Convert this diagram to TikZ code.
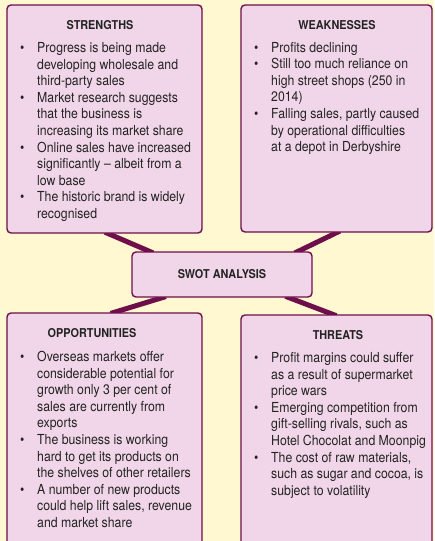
\documentclass[tikz,border=0pt]{standalone}
\usepackage{fontspec}
\setmainfont{TeX Gyre Heros}[FakeStretch=0.89]
\usetikzlibrary{calc}
\definecolor{swotbg}{RGB}{255,248,208}
\definecolor{swotfill}{RGB}{240,214,232}
\definecolor{swotline}{RGB}{110,15,75}
\definecolor{swottext}{RGB}{35,35,35}
\pgfdeclarelayer{bg}
\pgfdeclarelayer{links}
\pgfsetlayers{bg,links,main}
\newcommand{\bul}{\makebox[17pt][l]{\textbullet}}
\begin{document}
\begin{tikzpicture}[x=1pt,y=-1pt,
        box/.style={draw=swotline,line width=1.4pt,fill=swotfill,rounded corners=4pt,inner sep=0pt},
        head/.style={anchor=base,inner sep=0pt,font=\fontsize{12.2}{16.6}\selectfont\bfseries,text=swottext},
        list/.style={anchor=base west,inner sep=0pt,font=\fontsize{13.8}{16.6}\selectfont,text=swottext},
        link/.style={draw=swotline,line width=5pt,shorten <=-4pt,shorten >=-4pt}]
        \useasboundingbox (0,0) rectangle (434,541);
        \begin{pgfonlayer}{bg}
        \fill[swotbg] (0,0) rectangle (434,541);
        \end{pgfonlayer}
        \node[box,minimum width=195pt,minimum height=228pt] (str) at (104.5,119) {};
        \node[box,minimum width=191pt,minimum height=227pt] (weak) at (336.5,118.5) {};
        \node[box,minimum width=180pt,minimum height=45pt,font=\fontsize{12.2}{16.6}\selectfont\bfseries,text=swottext] (swot) at (222,274.5) {SWOT ANALYSIS};
        \node[box,minimum width=195pt,minimum height=237pt] (opp) at (104.5,431.5) {};
        \node[box,minimum width=191pt,minimum height=235pt] (thr) at (336.5,432.5) {};
        \node[head] (strh) at (100,29.5) {STRENGTHS};
        \node[head] (weakh) at (337,29.5) {WEAKNESSES};
        \node[head] (opph) at (92,337.5) {OPPORTUNITIES};
        \node[head] (thrh) at (338,339.5) {THREATS};
        \node[list] (strl) at (20,52.5) {\begin{tabular}[t]{@{}l@{}l@{}}
                \bul & Progress is being made\\
                & developing wholesale and\\
                & third-party sales\\
                \bul & Market research suggests\\
                & that the business is\\
                & increasing its market share\\
                \bul & Online sales have increased\\
                & significantly -- albeit from a\\
                & low base\\
                \bul & The historic brand is widely\\
                & recognised
            \end{tabular}};
        \node[list] (weakl) at (254,52) {\begin{tabular}[t]{@{}l@{}l@{}}
                \bul & Profits declining\\
                \bul & Still too much reliance on\\
                & high street shops (250 in\\
                & 2014)\\
                \bul & Falling sales, partly caused\\
                & by operational difficulties\\
                & at a depot in Derbyshire
            \end{tabular}};
        \node[list] (oppl) at (20,361.5) {\begin{tabular}[t]{@{}l@{}l@{}}
                \bul & Overseas markets offer\\
                & considerable potential for\\
                & growth only 3 per cent of\\
                & sales are currently from\\
                & exports\\
                \bul & The business is working\\
                & hard to get its products on\\
                & the shelves of other retailers\\
                \bul & A number of new products\\
                & could help lift sales, revenue\\
                & and market share
            \end{tabular}};
        \node[list] (thrl) at (254,362.5) {\begin{tabular}[t]{@{}l@{}l@{}}
                \bul & Profit margins could suffer\\
                & as a result of supermarket\\
                & price wars\\
                \bul & Emerging competition from\\
                & gift-selling rivals, such as\\
                & Hotel Chocolat and Moonpig\\
                \bul & The cost of raw materials,\\
                & such as sugar and cocoa, is\\
                & subject to volatility
            \end{tabular}};
        \begin{pgfonlayer}{links}
        \draw[link] ($(str.south west)!0.52!(str.south east)$) -- ($(swot.north west)!0.1!(swot.north east)$);
        \draw[link] ($(weak.south west)!0.5!(weak.south east)$) -- ($(swot.north west)!0.92!(swot.north east)$);
        \draw[link] ($(opp.north west)!0.55!(opp.north east)$) -- ($(swot.south west)!0.17!(swot.south east)$);
        \draw[link] ($(thr.north west)!0.48!(thr.north east)$) -- ($(swot.south west)!0.87!(swot.south east)$);
        \end{pgfonlayer}
    \end{tikzpicture}
\end{document}
